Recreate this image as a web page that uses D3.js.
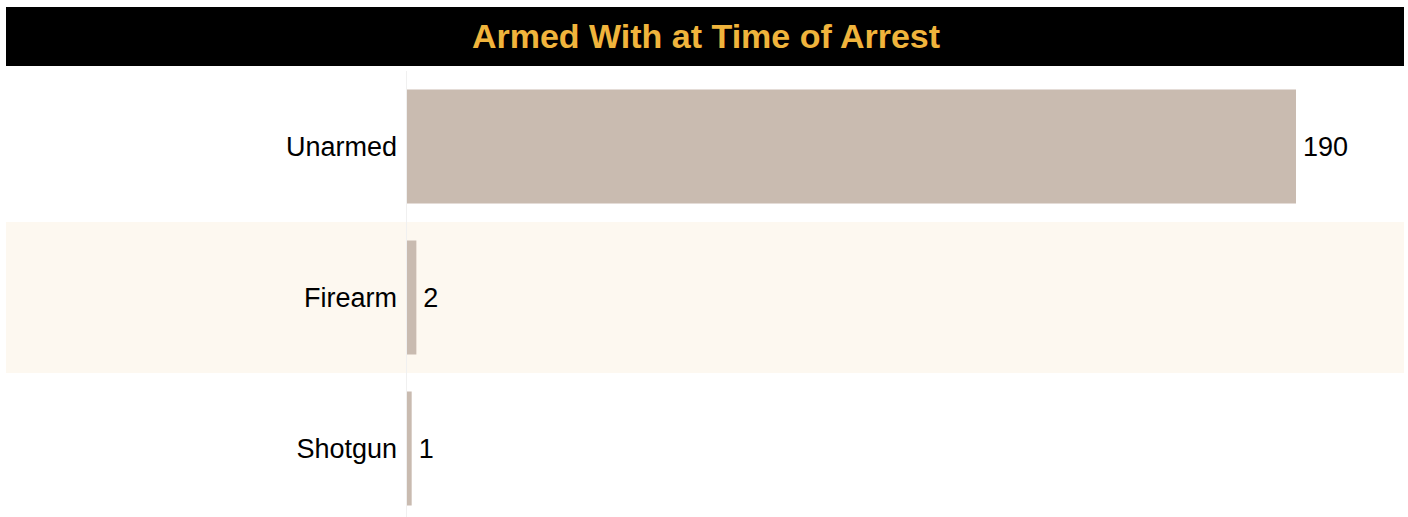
<!DOCTYPE html>
<html>
<head>
<meta charset="utf-8">
<script src="https://cdn.jsdelivr.net/npm/d3@7"></script>
<style>
  body { margin: 0; background: #fff; }
  svg { display: block; font-family: "Liberation Sans", Arial, sans-serif; }
</style>
</head>
<body>
<div id="chart"></div>
<script>
const FRAME_WIDTH = 1408;
const FRAME_HEIGHT = 517;

const TITLE = "Armed With at Time of Arrest";
const categories = ["Unarmed", "Firearm", "Shotgun"];
const counts = [190, 2, 1];

const data = categories.map((c, i) => ({category: c, count: counts[i]}));

const LEFT = 407;
const TOP = 71;

const svg = d3.select("#chart")
              .append("svg")
                .attr("width", FRAME_WIDTH)
                .attr("height", FRAME_HEIGHT);

// title strip
svg.append("rect")
    .attr("x", 6).attr("y", 7)
    .attr("width", 1398).attr("height", 59)
    .attr("fill", "#000");

svg.append("text")
    .attr("x", 706).attr("y", 48)
    .attr("text-anchor", "middle")
    .attr("font-size", "34px")
    .attr("font-weight", "bold")
    .attr("fill", "#f0b43c")
    .text(TITLE);

const Y_SCALE = d3.scaleBand()
                  .domain(categories)
                  .range([TOP, TOP + 151 * categories.length])
                  .paddingInner(0.245)
                  .paddingOuter(0.1225);

const X_SCALE = d3.scaleLinear()
                  .domain([0, 190])
                  .range([LEFT, 1296]);

// alternate row shading
svg.selectAll(".rowbg")
    .data(data)
    .enter()
    .append("rect")
      .attr("class", "rowbg")
      .attr("x", 6)
      .attr("y", (d) => Y_SCALE(d.category) - Y_SCALE.step() * Y_SCALE.paddingOuter())
      .attr("width", 1398)
      .attr("height", Y_SCALE.step())
      .attr("fill", (d, i) => i % 2 === 1 ? "#fdf8f0" : "#fff");

// baseline
svg.append("line")
    .attr("x1", LEFT - 0.5).attr("x2", LEFT - 0.5)
    .attr("y1", TOP).attr("y2", FRAME_HEIGHT)
    .attr("stroke", "#f0f0f0")
    .attr("stroke-width", 1);

svg.selectAll(".bar")
    .data(data)
    .enter()
    .append("rect")
      .attr("class", "bar")
      .attr("x", X_SCALE(0))
      .attr("y", (d) => Y_SCALE(d.category))
      .attr("width", (d) => X_SCALE(d.count) - X_SCALE(0))
      .attr("height", Y_SCALE.bandwidth())
      .attr("fill", "#c9bbb0");

// category labels
svg.selectAll(".cat")
    .data(data)
    .enter()
    .append("text")
      .attr("class", "cat")
      .attr("x", LEFT - 10)
      .attr("y", (d) => Y_SCALE(d.category) + Y_SCALE.bandwidth() / 2)
      .attr("dy", "0.35em")
      .attr("text-anchor", "end")
      .attr("font-size", "27px")
      .attr("fill", "#000")
      .text((d) => d.category);

// value labels
svg.selectAll(".val")
    .data(data)
    .enter()
    .append("text")
      .attr("class", "val")
      .attr("x", (d) => X_SCALE(d.count) + 7)
      .attr("y", (d) => Y_SCALE(d.category) + Y_SCALE.bandwidth() / 2)
      .attr("dy", "0.35em")
      .attr("font-size", "27px")
      .attr("fill", "#000")
      .text((d) => d.count);
</script>
</body>
</html>
